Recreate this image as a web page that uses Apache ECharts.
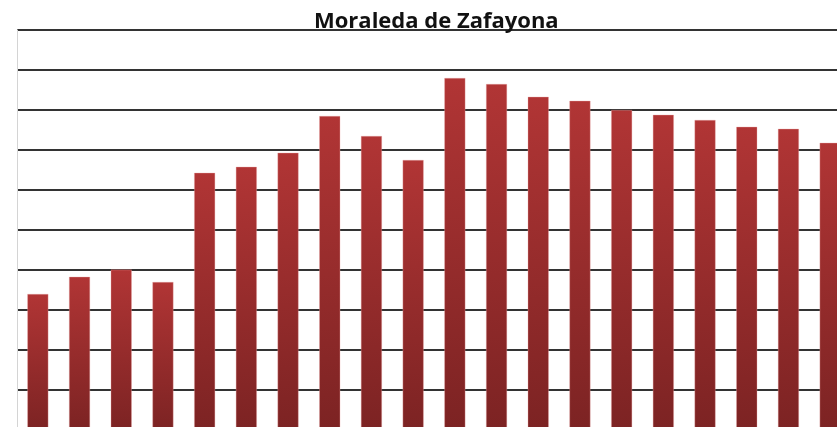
<!DOCTYPE html>
<html>
<head>
<meta charset="utf-8">
<script src="https://cdn.jsdelivr.net/npm/echarts@6/dist/echarts.min.js"></script>
<style>
  html, body { margin: 0; padding: 0; background: #fff; overflow: hidden; }
  #chart { width: 851px; height: 430px; }
</style>
</head>
<body>
<div id="chart"></div>
<script>
// datos (sin etiquetas visibles)
const categories = ['1', '2', '3', '4', '5', '6', '7', '8', '9', '10',
                    '11', '12', '13', '14', '15', '16', '17', '18', '19', '20'];
const values = [340, 383, 401, 370, 643, 658, 693, 785, 735, 675,
                880, 865, 833, 823, 800, 788, 775, 758, 753, 718];

let myChart = echarts.init(document.getElementById('chart'));

let option = {
    backgroundColor: '#ffffff',
    animation: false,
    title: {
        text: 'Moraleda de Zafayona',
        left: 309,
        top: 6,
        textStyle: {
            fontFamily: 'Open Sans',
            fontSize: 22,
            fontWeight: 'bold',
            color: '#111'
        }
    },
    grid: {
        left: 17,
        right: 0,
        top: 30,
        bottom: 0
    },
    xAxis: {
        type: 'category',
        data: categories,
        axisLine: { show: false },
        axisTick: { show: false },
        axisLabel: { show: false }
    },
    yAxis: {
        type: 'value',
        min: 0,
        max: 1000,
        interval: 100,
        axisLine: { show: true, lineStyle: { color: '#d4d4d4', width: 1 } },
        axisTick: { show: false },
        axisLabel: { show: false },
        splitLine: { lineStyle: { color: '#333333', width: 2 } }
    },
    series: [{
        type: 'bar',
        data: values,
        barWidth: 21,
        itemStyle: {
            color: new echarts.graphic.LinearGradient(0, 0, 0, 1, [
                { offset: 0, color: '#b13535' },
                { offset: 1, color: '#7c2323' }
            ]),
            borderColor: 'rgba(235,170,170,0.7)',
            borderWidth: 0.5
        }
    }]
};

myChart.setOption(option);
</script>
</body>
</html>
